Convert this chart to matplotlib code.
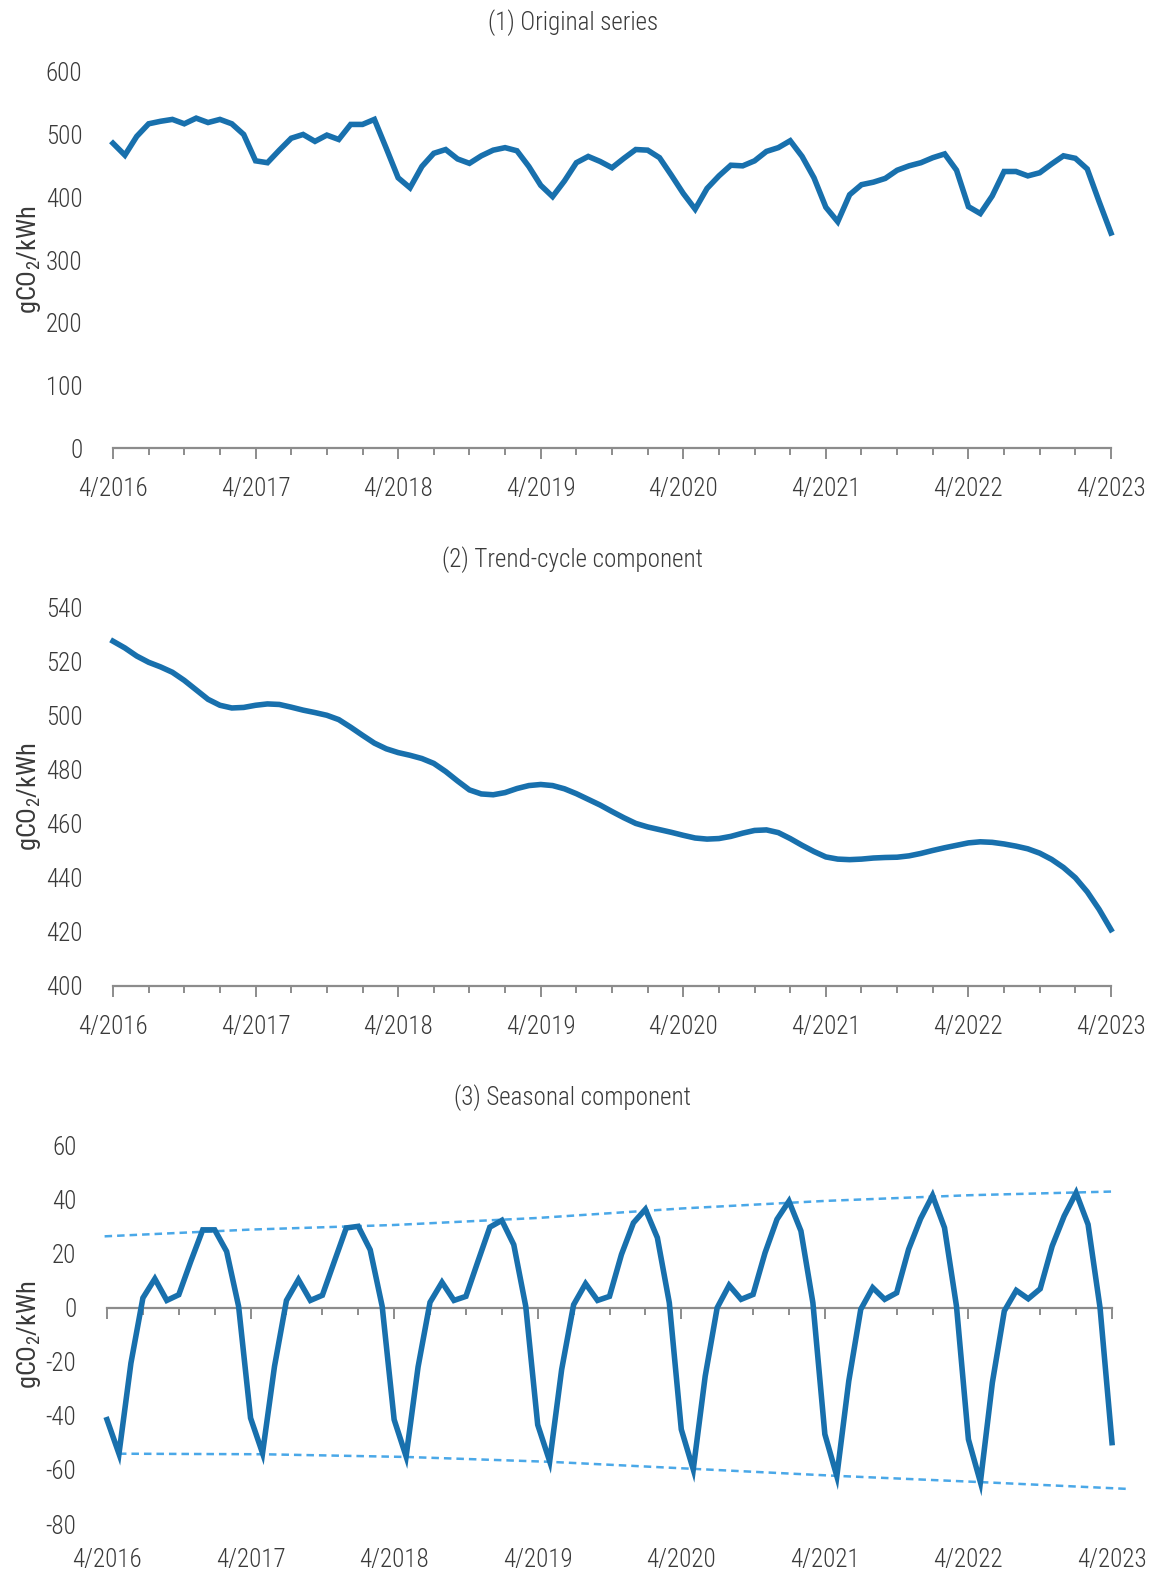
import numpy as np
import matplotlib.pyplot as plt
from matplotlib import font_manager

# Monthly emission intensity decomposition, 4/2016 - 4/2023

months = [f"{m}/{y}" for y in range(2016, 2024) for m in range(1, 13)][3:88]

original = [486, 467, 497, 517, 521, 524, 517, 526, 519, 524, 517, 500,
            458, 455, 475, 494, 500, 489, 499, 492, 516, 516, 524, 478,
            431, 415, 449, 470, 476, 461, 454, 466, 475, 479, 474, 449,
            419, 401, 426, 455, 465, 457, 447, 462, 476, 475, 463, 435,
            406, 381, 414, 434, 451, 450, 458, 473, 479, 490, 465, 431,
            384, 361, 404, 420, 424, 430, 443, 450, 455, 463, 469, 443,
            385, 374, 402, 441, 441, 434, 439, 453, 466, 462, 445, 393,
            343]

trend = [527.5, 525.0, 522.0, 519.7, 518.0, 516.0, 513.0, 509.5, 506.0, 503.8, 502.8, 503.0,
         503.8, 504.3, 504.1, 503.1, 502.0, 501.1, 500.1, 498.5, 495.7, 492.7, 489.8, 487.7,
         486.3, 485.3, 484.1, 482.3, 479.3, 475.8, 472.5, 471.0, 470.7, 471.5, 473.0, 474.1,
         474.5, 474.1, 472.9, 471.1, 469.0, 466.9, 464.5, 462.2, 460.1, 458.8, 457.8, 456.8,
         455.7, 454.7, 454.3, 454.5, 455.3, 456.5, 457.5, 457.7, 456.7, 454.5, 452.0, 449.7,
         447.7, 446.9, 446.7, 446.9, 447.3, 447.5, 447.6, 448.1, 449.0, 450.1, 451.1, 452.0,
         452.9, 453.3, 453.1, 452.5, 451.7, 450.7, 449.1, 446.8, 443.8, 440.0, 434.8, 428.3,
         420.8]

seasonal = [-41.4, -54.0, -20.5, 3.6, 10.7, 2.7, 4.8, 17.1, 28.8, 28.8, 20.8, 0.5,
            -40.8, -53.8, -21.7, 2.7, 10.4, 2.7, 4.6, 17.1, 29.5, 30.1, 21.4, 0.5,
            -41.4, -55.0, -21.9, 2.0, 9.4, 2.7, 4.2, 17.1, 29.8, 32.3, 23.3, 0.5,
            -43.3, -56.8, -22.9, 1.1, 8.9, 2.7, 4.2, 19.7, 31.4, 36.4, 25.9, 1.8,
            -45.0, -59.8, -25.3, 0.0, 8.3, 3.1, 4.9, 20.3, 32.7, 39.4, 28.4, 1.8,
            -46.8, -62.3, -27.1, -0.6, 7.4, 3.1, 5.5, 21.6, 32.9, 41.5, 29.6, 0.6,
            -48.7, -64.5, -27.7, -1.2, 6.4, 3.3, 7.0, 22.8, 33.9, 42.5, 30.8, 0.0,
            -49.9]

# envelope trend lines of the seasonal component (month position, value)
upper_x = [-0.2, 12, 24, 36, 48, 60, 72, 84.3]
upper_y = [26.4, 28.9, 30.6, 33.2, 36.7, 39.5, 41.6, 43.0]
lower_x = [1, 13, 25, 37, 49, 61, 73, 85.2]
lower_y = [-54.0, -54.2, -55.2, -57.0, -59.6, -62.2, -64.5, -67.0]

names = {f.name for f in font_manager.fontManager.ttflist}
font = 'Roboto Condensed' if 'Roboto Condensed' in names else 'DejaVu Sans'
plt.rcParams['font.family'] = [font, 'DejaVu Sans']
plt.rcParams['font.weight'] = 'light'
plt.rcParams['mathtext.fontset'] = 'custom'
plt.rcParams['mathtext.rm'] = font + ':light'

line_color = '#1870ad'
dash_color = '#4aa8e8'
axis_color = '#8c8c8c'
text_color = '#3a3a3a'

W, H = 1155, 1574
fig = plt.figure(figsize=(W / 100, H / 100), dpi=100)


def make_axes(left, right, top, bottom):
    return fig.add_axes([left / W, 1 - bottom / H, (right - left) / W, (bottom - top) / H])


x = np.arange(len(months))
year_pos = [i for i in x if months[i].startswith('4/')]
year_lab = [months[i] for i in year_pos]

panels = [
    (make_axes(113, 1111, 71.7, 448.3), original, (0, 600), range(0, 601, 100), '(1) Original series', 23, 13),
    (make_axes(113, 1111, 607.4, 985.9), trend, (400, 540), range(400, 541, 20), '(2) Trend-cycle component', 560, 13),
    (make_axes(107, 1112, 1145.5, 1524), seasonal, (-80, 60), range(-80, 61, 20), '(3) Seasonal component', 1098, 165),
]

for k, (ax, vals, ylim, yt, title, ty, xpad) in enumerate(panels):
    if k == 2:
        # seasonal panel: axis line sits on zero, labels stay at the bottom
        ax.spines['bottom'].set_position(('data', 0))
    ax.plot(x, vals, color=line_color, lw=4.0, solid_joinstyle='miter', clip_on=False, zorder=3)
    ax.set_xlim(0, len(months) - 1)
    ax.set_ylim(*ylim)
    ax.set_yticks(list(yt))
    ax.set_yticklabels([str(v) for v in yt], fontsize=18, color=text_color)
    ax.tick_params(axis='y', length=0, pad=22)
    for s in ['left', 'right', 'top']:
        ax.spines[s].set_visible(False)
    ax.spines['bottom'].set_color(axis_color)
    ax.spines['bottom'].set_linewidth(1.6)
    ax.set_xticks(year_pos)
    ax.set_xticks(range(0, len(months), 3), minor=True)
    ax.set_xticklabels(year_lab, fontsize=18, color=text_color)
    ax.tick_params(axis='x', which='major', length=8, width=1.4, color=axis_color, pad=xpad)
    ax.tick_params(axis='x', which='minor', length=5, width=1.4, color=axis_color)
    ax.set_ylabel('gCO$_\\mathregular{2}$/kWh', fontsize=19, color=text_color)
    ax.yaxis.set_label_coords(-(ax.get_position().x0 - 43 / W) / ax.get_position().width, 0.5)
    fig.text(573 / W, 1 - ty / H, title, fontsize=18, color=text_color, ha='center', va='center')
    ax.patch.set_alpha(0)

ax3 = panels[2][0]
ax3.plot(upper_x, upper_y, color=dash_color, lw=1.8, ls=(0, (3, 2)), clip_on=False, zorder=2)
ax3.plot(lower_x, lower_y, color=dash_color, lw=1.8, ls=(0, (3, 2)), clip_on=False, zorder=2)

fig.savefig('out.png', dpi=100)
